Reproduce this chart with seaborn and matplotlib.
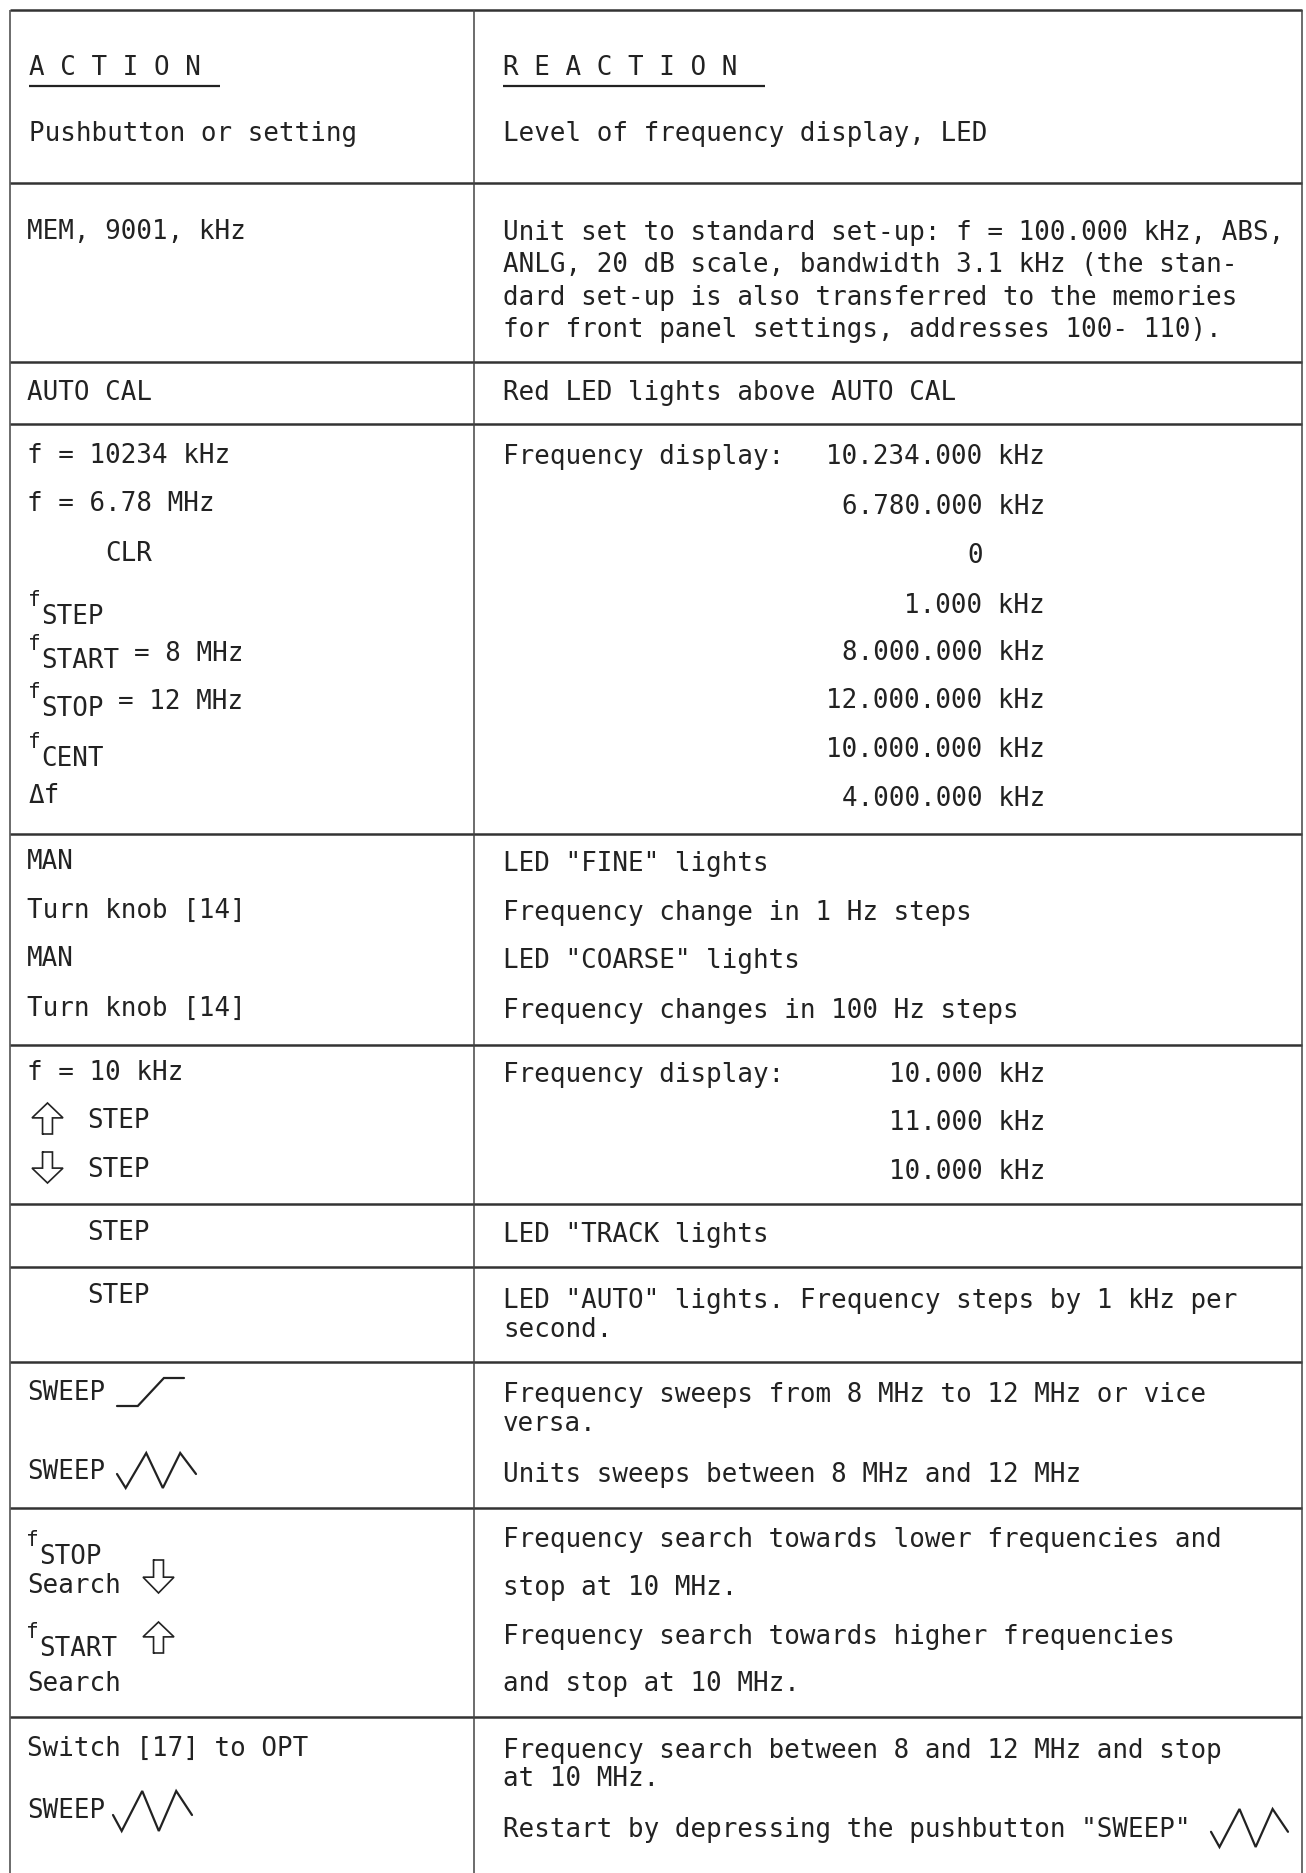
import matplotlib
matplotlib.use("Agg")
import matplotlib.pyplot as plt
import seaborn as sns

# --- table content -----------------------------------------------------------
HEAD_ACTION = "A C T I O N"
HEAD_REACTION = "R E A C T I O N"
SUB_ACTION = "Pushbutton or setting"
SUB_REACTION = "Level of frequency display, LED"

MEM_ACTION = "MEM, 9001, kHz"
MEM_REACTION = [
    "Unit set to standard set-up: f = 100.000 kHz, ABS,",
    "ANLG, 20 dB scale, bandwidth 3.1 kHz (the stan-",
    "dard set-up is also transferred to the memories",
    "for front panel settings, addresses 100- 110).",
]

CAL_ACTION = "AUTO CAL"
CAL_REACTION = "Red LED lights above AUTO CAL"

FREQ_ACTIONS = ["f = 10234 kHz", "f = 6.78 MHz", "CLR"]
FREQ_KEYS = ["STEP", "START", "STOP", "CENT"]
FREQ_KEY_SUFFIX = ["", "= 8 MHz", "= 12 MHz", ""]
DELTA_KEY = "\u0394f"
FREQ_LABEL = "Frequency display:"
FREQ_DISPLAY = ["10.234.000 kHz", "6.780.000 kHz", "0", "1.000 kHz",
                "8.000.000 kHz", "12.000.000 kHz", "10.000.000 kHz", "4.000.000 kHz"]

MAN_ACTIONS = ["MAN", "Turn knob [14]", "MAN", "Turn knob [14]"]
MAN_REACTIONS = ['LED "FINE" lights', "Frequency change in 1 Hz steps",
                 'LED "COARSE" lights', "Frequency changes in 100 Hz steps"]

STEP_ACTION = "f = 10 kHz"
STEP_DIRS = ["up", "down"]
STEP_WORD = "STEP"
STEP_DISPLAY = ["10.000 kHz", "11.000 kHz", "10.000 kHz"]

TRACK_REACTION = 'LED "TRACK lights'
AUTO_REACTION = ['LED "AUTO" lights. Frequency steps by 1 kHz per', "second."]

SWEEP_WORD = "SWEEP"
SWEEP_REACTIONS = ["Frequency sweeps from 8 MHz to 12 MHz or vice", "versa.",
                   "Units sweeps between 8 MHz and 12 MHz"]

SEARCH_KEYS = ["STOP", "START"]
SEARCH_DIRS = ["down", "up"]
SEARCH_WORD = "Search"
SEARCH_REACTIONS = ["Frequency search towards lower frequencies and", "stop at 10 MHz.",
                    "Frequency search towards higher frequencies", "and stop at 10 MHz."]

OPT_ACTION = "Switch [17] to OPT"
OPT_REACTIONS = ["Frequency search between 8 and 12 MHz and stop", "at 10 MHz.",
                 'Restart by depressing the pushbutton "SWEEP"']

# glyph shapes (unit box, y up) for the panel symbols
RAMP_X = [0.0, 0.31, 0.70, 1.0]
RAMP_Y = [0.0, 0.0, 1.0, 1.0]
WAVE_X = [0.0, 0.11, 0.37, 0.58, 0.80, 1.0]
WAVE_Y = [0.40, 0.0, 1.0, 0.0, 1.0, 0.40]
ARROW_X = [0.34, 0.66, 0.66, 1.0, 0.5, 0.0, 0.34, 0.34]
ARROW_Y = [0.0, 0.0, 0.52, 0.52, 1.0, 0.52, 0.52, 0.0]

# --- layout (pixels, origin top-left) ---------------------------------------
W, H = 1306, 1873
X_LEFT, X_MID, X_RIGHT = 10, 474, 1302
RULES_Y = [10, 183, 362, 424, 834, 1045, 1204, 1267, 1362, 1508, 1717]
XA, XR = 27, 503          # text start in action / reaction column
X_VAL = 1045              # right edge of the value column
CW = 15.5                 # width of one typewriter cell
INK = "#222222"
FS = 18.6

sns.set_theme(style="white")
plt.rcParams["font.family"] = ["DejaVu Sans Mono", "DejaVu Sans"]

fig = plt.figure(figsize=(W / 100, H / 100), dpi=100)
ax = fig.add_axes([0, 0, 1, 1])
ax.set_xlim(0, W)
ax.set_ylim(H, 0)
ax.axis("off")


def txt(x, y, s, ha="left", size=FS):
    ax.text(x, y, s, ha=ha, va="center", fontsize=size, color=INK)


def keyed(x, y, key, suffix=""):
    # raised "f" followed by the key name typed half a line lower
    txt(x, y - 10, "f", size=FS * 0.82)
    txt(x + 13, y + 7, key)
    if suffix:
        txt(x + 13 + (len(key) + 1) * CW, y, suffix)


def glyph(xs, ys, x0, y0, w, h, lw=1.6):
    # x0, y0 = bottom-left corner in pixel space
    ax.plot([x0 + v * w for v in xs], [y0 - v * h for v in ys], color=INK, lw=lw,
            solid_joinstyle="miter")


def arrow(direction, x0, y_top, w=31, h=31):
    ys = ARROW_Y if direction == "up" else [1 - v for v in ARROW_Y]
    glyph(ARROW_X, ys, x0, y_top + h, w, h, lw=1.2)


# rules
ax.hlines(RULES_Y, X_LEFT, X_RIGHT, color="#333333", lw=1.8)
ax.vlines([X_LEFT, X_MID, X_RIGHT], RULES_Y[0], H, color="#444444", lw=1.1)

# header
txt(XA + 2, 68, HEAD_ACTION)
txt(XR, 68, HEAD_REACTION)
ax.hlines(86, XA + 2, 220, color=INK, lw=1.6)
ax.hlines(86, XR, 765, color=INK, lw=1.6)
txt(XA + 2, 134, SUB_ACTION)
txt(XR, 134, SUB_REACTION)

# MEM
txt(XA, 232, MEM_ACTION)
for i, s in enumerate(MEM_REACTION):
    txt(XR, 233 + i * 32.3, s)

# AUTO CAL
txt(XA, 393, CAL_ACTION)
txt(XR, 393, CAL_REACTION)

# frequency entry block
for s, y in zip(FREQ_ACTIONS, [456, 504, 554]):
    txt(XA if s != "CLR" else 105, y, s)
for key, suf, y in zip(FREQ_KEYS, FREQ_KEY_SUFFIX, [610, 654, 702, 752]):
    keyed(XA + 1, y, key, suf)
txt(XA + 2, 796, DELTA_KEY)
txt(XR, 457, FREQ_LABEL)
for s, y in zip(FREQ_DISPLAY, [457, 507, 556, 606, 653, 701, 750, 799]):
    if s == "0":
        txt(X_VAL - 4 * CW, y, s, ha="right")
    else:
        txt(X_VAL, y, s, ha="right")

# MAN block
for a, r, y in zip(MAN_ACTIONS, MAN_REACTIONS, [862, 911, 959, 1009]):
    txt(XA, y, a)
    txt(XR, y + 2, r)

# STEP block
txt(XA, 1073, STEP_ACTION)
for d, y, top in zip(STEP_DIRS, [1121, 1170], [1103, 1152]):
    arrow(d, 32, top)
    txt(87, y, STEP_WORD)
txt(XR, 1075, FREQ_LABEL)
for s, y in zip(STEP_DISPLAY, [1075, 1123, 1172]):
    txt(X_VAL, y, s, ha="right")

# TRACK / AUTO
txt(87, 1233, STEP_WORD)
txt(XR, 1235, TRACK_REACTION)
txt(87, 1296, STEP_WORD)
txt(XR, 1301, AUTO_REACTION[0])
txt(XR, 1330, AUTO_REACTION[1])

# SWEEP block
txt(XA, 1393, SWEEP_WORD)
glyph(RAMP_X, RAMP_Y, 117, 1406, 67, 28)
txt(XA, 1472, SWEEP_WORD)
glyph(WAVE_X, WAVE_Y, 117, 1488, 79, 35)
for s, y in zip(SWEEP_REACTIONS, [1395, 1424, 1475]):
    txt(XR, y, s)

# search block
keyed(XA - 1, 1550, SEARCH_KEYS[0])
txt(XA, 1586, SEARCH_WORD)
arrow(SEARCH_DIRS[0], 143, 1560, h=33)
keyed(XA - 1, 1642, SEARCH_KEYS[1])
arrow(SEARCH_DIRS[1], 143, 1622)
txt(XA, 1684, SEARCH_WORD)
for s, y in zip(SEARCH_REACTIONS, [1540, 1588, 1637, 1684]):
    txt(XR, y, s)

# OPT block
txt(XA, 1749, OPT_ACTION)
txt(XA, 1811, SWEEP_WORD)
glyph(WAVE_X, WAVE_Y, 113, 1831, 79, 40)
for s, y in zip(OPT_REACTIONS, [1751, 1779, 1830]):
    txt(XR, y, s)
glyph(WAVE_X, WAVE_Y, 1211, 1847, 77, 38)

fig.savefig("out.png", dpi=100, facecolor="white")
plt.close(fig)
